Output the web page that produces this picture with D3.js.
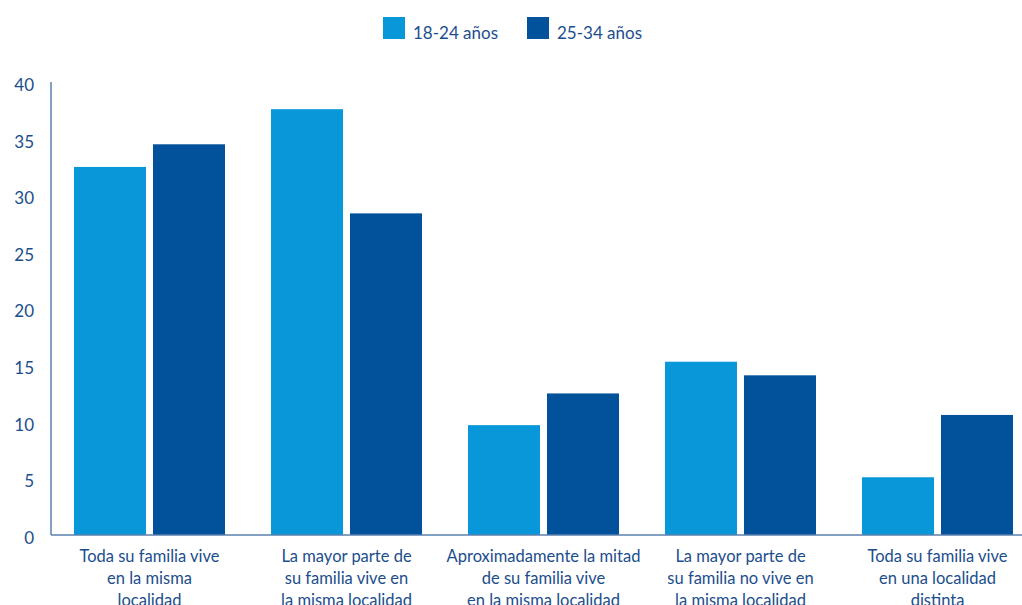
<!DOCTYPE html>
<html><head><meta charset="utf-8">
<script src="https://cdn.jsdelivr.net/npm/d3@7"></script>
<style>body{margin:0;background:#fff}svg{display:block;font-family:Lato,"Open Sans",sans-serif}</style>
</head><body><svg id="c" width="1022" height="605"></svg>
<script>
const categories = [
  ["Toda su familia vive","en la misma","localidad"],
  ["La mayor parte de","su familia vive en","la misma localidad"],
  ["Aproximadamente la mitad","de su familia vive","en la misma localidad"],
  ["La mayor parte de","su familia no vive en","la misma localidad"],
  ["Toda su familia vive","en una localidad","distinta"]
];
const seriesNames = ["18-24 años","25-34 años"];
const s1824 = [32.5, 37.6, 9.7, 15.3, 5.1];
const s2534 = [34.5, 28.4, 12.5, 14.1, 10.6];
const yTicks = [0,5,10,15,20,25,30,35,40];
const colors = ["#0897d8","#02529b"];
const textColor = "#1b4e8c";

const svg = d3.select("#c");
const x0 = d3.scaleBand().domain(d3.range(categories.length)).range([51,1036]).paddingInner(0.2335).paddingOuter(0.11675);
const x1 = d3.scaleBand().domain([0,1]).range([0,x0.bandwidth()]).paddingInner(0.0886);
const y = d3.scaleLinear().domain([0,40]).range([535,82]);
const series = [s1824, s2534];

// bars
const g = svg.append("g");
categories.forEach((c,i)=>{
  series.forEach((s,j)=>{
    g.append("rect").attr("x", x0(i)+x1(j)).attr("width", x1.bandwidth())
      .attr("y", y(s[i])).attr("height", y(0)-y(s[i])).attr("fill", colors[j]);
  });
});

// axes lines
svg.append("line").attr("x1",51).attr("x2",51).attr("y1",y(40)).attr("y2",y(0)).attr("stroke","#5a80ae").attr("stroke-width",1.5);
svg.append("line").attr("x1",51).attr("x2",1022).attr("y1",y(0)).attr("y2",y(0)).attr("stroke","#5a80ae").attr("stroke-width",1.5);

// y ticks
const yAxis = d3.axisLeft(y).tickValues(yTicks).tickSize(0).tickPadding(0);
const ya = svg.append("g").attr("transform","translate(34,3)").call(yAxis);
ya.select(".domain").remove();
ya.selectAll("text").attr("fill",textColor).style("font-size","17px").style("font-family","Lato,'Open Sans',sans-serif");

// x labels
categories.forEach((lines,i)=>{
  const cx = x0(i)+x0.bandwidth()/2;
  const t = svg.append("text").attr("text-anchor","middle").attr("fill",textColor).style("font-size","16.5px");
  lines.forEach((l,k)=>{
    t.append("tspan").attr("x",cx).attr("y",562+k*22).text(l);
  });
});

// legend
const lx = [383, 527];
seriesNames.forEach((n,j)=>{
  svg.append("rect").attr("x",lx[j]).attr("y",17).attr("width",22).attr("height",22).attr("fill",colors[j]);
  svg.append("text").attr("x",lx[j]+30).attr("y",39).attr("fill",textColor).style("font-size","17px").text(n);
});
</script></body></html>
